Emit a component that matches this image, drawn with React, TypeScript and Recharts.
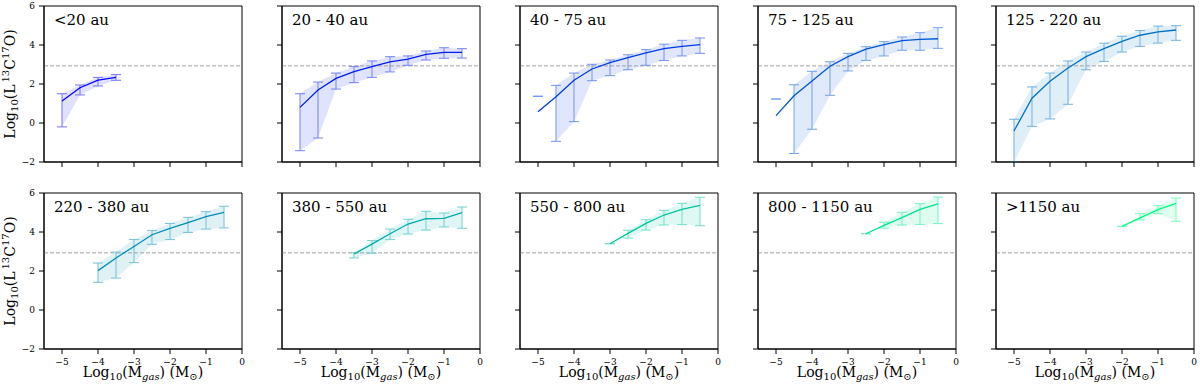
import React from "react";
import {
  ComposedChart,
  Line,
  Area,
  XAxis,
  YAxis,
  ErrorBar,
  ReferenceLine,
  ReferenceArea,
} from "recharts";

// ---------------- data ----------------
const MASS = [-5, -4.5, -4, -3.5, -3, -2.5, -2, -1.5, -1, -0.5];
const X_TICKS = [-5, -4, -3, -2, -1, 0];
const Y_TICKS = [-2, 0, 2, 4, 6];
const X_DOMAIN: [number, number] = [-5.5, 0];
const Y_DOMAIN: [number, number] = [-2, 6];
const THRESHOLD = 2.93;

const TITLES = [
  "<20 au",
  "20 - 40 au",
  "40 - 75 au",
  "75 - 125 au",
  "125 - 220 au",
  "220 - 380 au",
  "380 - 550 au",
  "550 - 800 au",
  "800 - 1150 au",
  ">1150 au",
];

// matplotlib "winter" colormap samples
const COLORS = [
  "#0000ff",
  "#001cf1",
  "#0039e3",
  "#0055d5",
  "#0071c6",
  "#008eb8",
  "#00aaaa",
  "#00c69c",
  "#00e38e",
  "#00ff80",
];

const N = null;
const MEAN_1 = [1.13, 1.81, 2.2, 2.34, N, N, N, N, N, N];
const LOW_1 = [-0.2, 1.44, 1.9, 2.19, N, N, N, N, N, N];
const HIGH_1 = [1.5, 1.95, 2.34, 2.48, N, N, N, N, N, N];

const MEAN_2 = [0.8, 1.69, 2.29, 2.63, 2.89, 3.13, 3.28, 3.52, 3.62, 3.62];
const LOW_2 = [-1.42, -0.77, 1.74, 2.07, 2.34, 2.62, 2.96, 3.23, 3.32, 3.33];
const HIGH_2 = [1.5, 2.1, 2.56, 2.89, 3.18, 3.4, 3.44, 3.69, 3.86, 3.81];

const MEAN_3 = [0.58, 1.35, 2.19, 2.77, 3.09, 3.35, 3.59, 3.81, 3.93, 4.02];
const LOW_3 = [1.37, -0.94, 0.07, 2.17, 2.43, 2.73, 2.96, 3.21, 3.44, 3.57];
const HIGH_3 = [1.37, 1.93, 2.56, 3.01, 3.23, 3.5, 3.76, 4.04, 4.24, 4.36];

const MEAN_4 = [0.38, 1.4, 2.15, 2.91, 3.4, 3.79, 4.02, 4.22, 4.29, 4.32];
const LOW_4 = [1.23, -1.56, -0.32, 1.42, 2.67, 3.21, 3.44, 3.73, 3.73, 3.83];
const HIGH_4 = [1.23, 1.96, 2.65, 3.14, 3.57, 3.91, 4.17, 4.41, 4.63, 4.89];

const MEAN_5 = [-0.41, 1.27, 2.14, 2.82, 3.4, 3.81, 4.19, 4.5, 4.67, 4.77];
const LOW_5 = [-2.0, -0.17, 0.21, 0.96, 2.73, 3.16, 3.64, 3.93, 4.1, 4.24];
const HIGH_5 = [0.19, 1.85, 2.56, 3.18, 3.64, 4.09, 4.45, 4.74, 4.97, 4.99];

const MEAN_6 = [N, N, 2.02, 2.67, 3.26, 3.86, 4.19, 4.48, 4.79, 5.01];
const LOW_6 = [N, N, 1.42, 1.64, 2.43, 3.37, 3.61, 3.98, 4.15, 4.21];
const HIGH_6 = [N, N, 2.41, 2.97, 3.61, 4.07, 4.44, 4.75, 5.04, 5.32];

const MEAN_7 = [N, N, N, 2.87, 3.38, 3.91, 4.41, 4.68, 4.7, 4.99];
const LOW_7 = [N, N, N, 2.67, 2.91, 3.61, 3.9, 4.1, 4.26, 4.19];
const HIGH_7 = [N, N, N, 2.94, 3.56, 4.15, 4.65, 5.06, 4.97, 5.28];

const MEAN_8 = [N, N, N, N, 3.4, 3.93, 4.44, 4.87, 5.16, 5.37];
const LOW_8 = [N, N, N, N, 3.4, 3.69, 4.1, 4.36, 4.38, 4.32];
const HIGH_8 = [N, N, N, N, 3.4, 4.09, 4.63, 5.11, 5.47, 5.78];

const MEAN_9 = [N, N, N, N, N, 3.91, 4.34, 4.74, 5.16, 5.44];
const LOW_9 = [N, N, N, N, N, 3.91, 4.2, 4.36, 4.39, 4.43];
const HIGH_9 = [N, N, N, N, N, 3.91, 4.5, 5.01, 5.45, 5.79];

const MEAN_10 = [N, N, N, N, N, N, 4.29, 4.72, 5.15, 5.47];
const LOW_10 = [N, N, N, N, N, N, 4.29, 4.62, 4.94, 4.55];
const HIGH_10 = [N, N, N, N, N, N, 4.29, 4.94, 5.35, 5.74];

const MEANS = [MEAN_1, MEAN_2, MEAN_3, MEAN_4, MEAN_5, MEAN_6, MEAN_7, MEAN_8, MEAN_9, MEAN_10];
const LOWS = [LOW_1, LOW_2, LOW_3, LOW_4, LOW_5, LOW_6, LOW_7, LOW_8, LOW_9, LOW_10];
const HIGHS = [HIGH_1, HIGH_2, HIGH_3, HIGH_4, HIGH_5, HIGH_6, HIGH_7, HIGH_8, HIGH_9, HIGH_10];

// ---------------- layout ----------------
const FONT = "DejaVu Serif";
const PLOT_W = 198;
const PLOT_H = 156;
const COL_STEP = 238;
const ROW_STEP = 187.3;
const FIRST_LEFT = 44;
const FIRST_TOP = 6;
const Y_AXIS_W = 44;
const X_AXIS_H = 40;
const M_TOP = 6;
const M_RIGHT = 6;

function fmt(v: number) {
  return v < 0 ? "\u2212" + Math.abs(v) : String(v);
}

function mixWhite(hex: string, t: number) {
  const r = parseInt(hex.slice(1, 3), 16);
  const g = parseInt(hex.slice(3, 5), 16);
  const b = parseInt(hex.slice(5, 7), 16);
  const m = (c: number) => Math.round(c + (255 - c) * t);
  return `rgb(${m(r)},${m(g)},${m(b)})`;
}

function buildRows(i: number) {
  return MASS.map((m, k) => {
    const v = MEANS[i][k];
    const lo = LOWS[i][k];
    const hi = HIGHS[i][k];
    return {
      m,
      mean: v,
      err: v == null || lo == null || hi == null ? null : [v - lo, hi - v],
      band: lo != null && hi != null && hi > lo ? [lo, hi] : null,
    };
  });
}

function YLabel(props: any) {
  const vb = props.viewBox || {};
  const x = (vb.x ?? 0) + 15;
  const y = (vb.y ?? 0) + (vb.height ?? PLOT_H) / 2;
  return (
    <text
      x={x}
      y={y}
      transform={`rotate(-90 ${x} ${y})`}
      textAnchor="middle"
      fontFamily={FONT}
      fontSize={14}
      fill="#000"
    >
      <tspan>Log</tspan>
      <tspan fontSize={10} dy={3}>10</tspan>
      <tspan dy={-3}>(L</tspan>
      <tspan fontSize={10} dy={-6}>{"\u200913"}</tspan>
      <tspan dy={6}>C</tspan>
      <tspan fontSize={10} dy={-6}>17</tspan>
      <tspan dy={6}>O)</tspan>
    </text>
  );
}

function XLabel(props: any) {
  const vb = props.viewBox || {};
  const x = (vb.x ?? 0) + (vb.width ?? PLOT_W) / 2;
  const y = (vb.y ?? 0) + 28;
  return (
    <text x={x} y={y} textAnchor="middle" fontFamily={FONT} fontSize={14} fill="#000">
      <tspan>Log</tspan>
      <tspan fontSize={10} dy={3}>10</tspan>
      <tspan dy={-3}>(M</tspan>
      <tspan fontSize={10} fontStyle="italic" dy={3}>gas</tspan>
      <tspan dy={-3}>) (M</tspan>
      <tspan fontSize={10} dy={3}>{"\u2299"}</tspan>
      <tspan dy={-3}>)</tspan>
    </text>
  );
}

function TitleLabel(props: any) {
  const vb = props.viewBox || {};
  return (
    <text x={(vb.x ?? 0) + 10} y={(vb.y ?? 0) + 18.5} fontFamily={FONT} fontSize={15} fill="#000">
      {props.text}
    </text>
  );
}

function Panel({ idx }: { idx: number }) {
  const col = idx % 5;
  const row = Math.floor(idx / 5);
  const plotLeft = FIRST_LEFT + col * COL_STEP;
  const plotTop = FIRST_TOP + row * ROW_STEP;
  const color = COLORS[idx];
  const errColor = mixWhite(color, 0.45);
  const data = buildRows(idx);
  const showXLabels = row === 1;
  const showYLabels = col === 0;
  const tickStyle = { fontFamily: FONT, fontSize: 9, fill: "#000" };
  const title = TITLES[idx];

  return (
    <div
      style={{
        position: "absolute",
        left: plotLeft - Y_AXIS_W,
        top: plotTop - M_TOP,
      }}
    >
      <ComposedChart
        width={Y_AXIS_W + PLOT_W + M_RIGHT}
        height={M_TOP + PLOT_H + X_AXIS_H}
        data={data}
        margin={{ top: M_TOP, right: M_RIGHT, left: 0, bottom: 0 }}
      >
        <XAxis
          dataKey="m"
          type="number"
          domain={X_DOMAIN}
          ticks={X_TICKS}
          allowDataOverflow
          height={X_AXIS_H}
          stroke="#000"
          tickSize={5}
          tickMargin={5}
          tick={tickStyle}
          tickFormatter={showXLabels ? fmt : () => ""}
          label={showXLabels ? (p: any) => <XLabel {...p} /> : undefined}
        />
        <YAxis
          type="number"
          domain={Y_DOMAIN}
          ticks={Y_TICKS}
          allowDataOverflow
          width={Y_AXIS_W}
          stroke="#000"
          tickSize={5}
          tickMargin={4}
          tick={tickStyle}
          tickFormatter={showYLabels ? fmt : () => ""}
          label={showYLabels ? (p: any) => <YLabel {...p} /> : undefined}
        />
        <ReferenceLine
          y={THRESHOLD}
          stroke="#a0a0a0"
          strokeWidth={1}
          strokeDasharray="4 2"
        />
        <Area
          type="linear"
          dataKey="band"
          stroke="none"
          fill={color}
          fillOpacity={0.12}
          isAnimationActive={false}
          activeDot={false}
          connectNulls={false}
        />
        <Line
          type="linear"
          dataKey="mean"
          stroke={color}
          strokeWidth={1.3}
          dot={false}
          activeDot={false}
          isAnimationActive={false}
          connectNulls={false}
        >
          <ErrorBar
            dataKey="err"
            direction="y"
            width={5}
            stroke={errColor}
            strokeWidth={1}
            isAnimationActive={false}
          />
        </Line>
        <ReferenceArea
          x1={X_DOMAIN[0]}
          x2={X_DOMAIN[1]}
          y1={Y_DOMAIN[0]}
          y2={Y_DOMAIN[1]}
          fill="none"
          fillOpacity={0}
          stroke="#000"
          strokeWidth={1}
          label={(p: any) => <TitleLabel {...p} text={title} />}
        />
      </ComposedChart>
    </div>
  );
}

export default function App() {
  return (
    <div
      style={{
        position: "absolute",
        left: 0,
        top: 0,
        width: 1200,
        height: 387,
        background: "#fff",
        overflow: "hidden",
      }}
    >
      {TITLES.map((_, i) => (
        <Panel key={i} idx={i} />
      ))}
    </div>
  );
}
